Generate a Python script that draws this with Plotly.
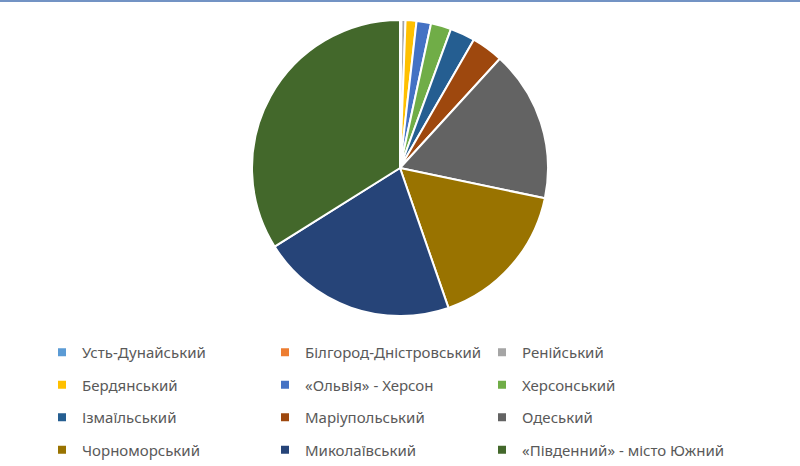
import plotly.graph_objects as go

labels = ["Усть-Дунайський", "Білгород-Дністровський", "Ренійський",
          "Бердянський", "«Ольвія» - Херсон", "Херсонський",
          "Ізмаїльський", "Маріупольський", "Одеський",
          "Чорноморський", "Миколаївський", "«Південний» - місто Южний"]
values = [0.08, 0.08, 0.44, 1.19, 1.58, 2.22, 2.72, 3.47, 16.5, 16.4, 21.4, 33.9]
colors = ["#5B9BD5", "#ED7D31", "#A5A5A5", "#FFC000", "#4472C4", "#70AD47",
          "#255E91", "#9E480E", "#636363", "#997300", "#264478", "#43682B"]

W, H = 800, 466
fig = go.Figure()
fig.add_trace(go.Pie(
    labels=labels, values=values, sort=False, direction="clockwise", rotation=0,
    marker=dict(colors=colors, line=dict(color="white", width=2)),
    textinfo="none", showlegend=False,
    domain=dict(x=[252/W, 548/W], y=[1-316/H, 1-20/H]),
))

legend_names = ["legend", "legend2", "legend3"]
for i, (lab, col) in enumerate(zip(labels, colors)):
    fig.add_trace(go.Scatter(
        x=[None], y=[None], mode="markers", name=lab,
        marker=dict(symbol="square", size=8, color=col),
        legendgroup=f"g{i}", legend=legend_names[i % 3], showlegend=True,
    ))

text_x = [84, 307, 524]
leg_common = dict(orientation="v", yanchor="top", xanchor="left",
                  font=dict(family="Noto Sans", size=15, color="#595959"),
                  bgcolor="rgba(0,0,0,0)", tracegroupgap=10, itemclick=False)
layout_legs = {}
for k, name in enumerate(legend_names):
    layout_legs[name] = dict(leg_common, x=(text_x[k]-42)/W, y=1-(336)/H)

fig.update_layout(
    width=W, height=H, margin=dict(l=0, r=0, t=0, b=0),
    paper_bgcolor="white", plot_bgcolor="white",
    xaxis=dict(visible=False), yaxis=dict(visible=False),
    shapes=[dict(type="rect", xref="paper", yref="paper", x0=0, x1=1,
                 y0=1-2/H, y1=1, fillcolor="#7393c4", line=dict(width=0))],
    **layout_legs,
)
fig.write_html("out.html")
